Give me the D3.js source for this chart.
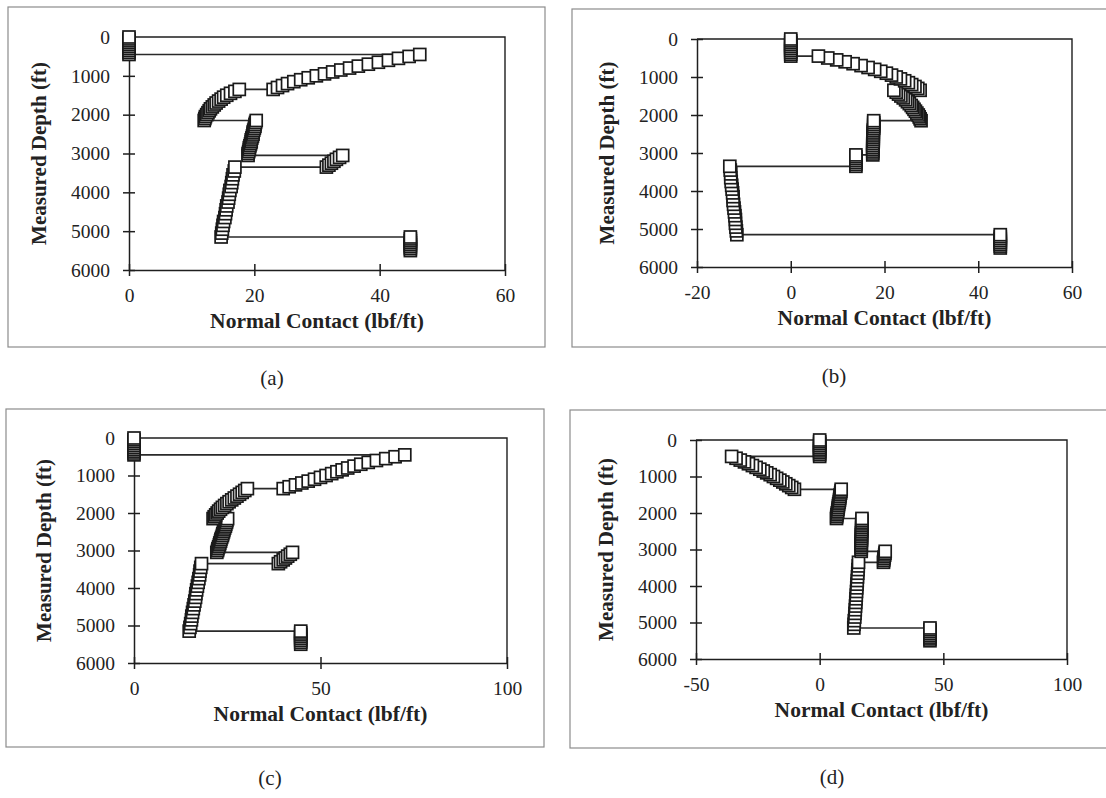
<!DOCTYPE html>
<html>
<head>
<meta charset="utf-8">
<script src="https://cdn.jsdelivr.net/npm/d3@7"></script>
<style>
  body { margin: 0; background: #fff; }
  svg { display: block; }
</style>
</head>
<body>
<div id="fig"></div>
<script>
// 1: DATA (depth in ft, normal contact in lbf/ft)
const depthFt = [
  0, 50, 100, 150, 200, 250, 300, 350, 400, 450,
  450, 500, 550, 600, 650, 700, 750, 800, 850, 900, 950, 1000, 1050, 1100, 1150, 1200, 1250, 1300, 1350,
  1350, 1400, 1450, 1500, 1550, 1600, 1650, 1700, 1750, 1800, 1850, 1900, 1950, 2000, 2050, 2100, 2150,
  2150, 2200, 2250, 2300, 2350, 2400, 2450, 2500, 2550, 2600, 2650, 2700, 2750, 2800, 2850, 2900, 2950, 3000, 3050,
  3050, 3100, 3150, 3200, 3250, 3300, 3350,
  3350, 3450, 3550, 3650, 3750, 3850, 3950, 4050, 4150, 4250, 4350, 4450, 4550, 4650, 4750, 4850, 4950, 5050, 5150,
  5150, 5200, 5250, 5300, 5350, 5400, 5450, 5500
];

const contactA = [
  0, 0, 0, 0, 0, 0, 0, 0, 0, 0,
  46.4, 44.7, 43.0, 41.4, 39.8, 38.2, 36.6, 35.2, 33.8, 32.5, 31.2, 29.9, 28.6, 27.4, 26.3, 25.3, 24.5, 23.7, 23.0,
  17.6, 16.9, 16.2, 15.6, 15.1, 14.7, 14.3, 13.9, 13.6, 13.3, 13.0, 12.8, 12.6, 12.4, 12.2, 12.1, 12.0,
  20.3, 20.2, 20.1, 20.1, 20.0, 19.9, 19.8, 19.8, 19.7, 19.6, 19.5, 19.5, 19.4, 19.3, 19.2, 19.2, 19.1, 19.0, 19.0,
  34.1, 33.6, 33.1, 32.7, 32.3, 31.9, 31.5,
  16.9, 16.8, 16.6, 16.5, 16.4, 16.3, 16.1, 16.0, 15.9, 15.8, 15.6, 15.5, 15.4, 15.3, 15.1, 15.0, 14.9, 14.8, 14.7,
  44.9, 44.9, 44.9, 44.9, 44.9, 44.9, 44.9, 44.9
];

const contactB = [
  0, 0, 0, 0, 0, 0, 0, 0, 0, 0,
  5.9, 7.9, 9.8, 11.6, 13.3, 15.0, 16.5, 17.9, 19.2, 20.4, 21.5, 22.5, 23.4, 24.3, 25.1, 25.8, 26.5, 27.1, 27.6,
  22.0, 22.5, 23.0, 23.5, 24.0, 24.5, 24.9, 25.3, 25.7, 26.0, 26.3, 26.6, 26.9, 27.2, 27.4, 27.6, 27.8,
  17.7, 17.7, 17.7, 17.7, 17.7, 17.6, 17.6, 17.6, 17.6, 17.6, 17.6, 17.6, 17.5, 17.5, 17.5, 17.5, 17.5, 17.5, 17.5,
  13.9, 13.9, 13.9, 13.9, 13.9, 13.9, 13.9,
  -13.0, -12.9, -12.8, -12.8, -12.7, -12.6, -12.5, -12.4, -12.3, -12.3, -12.2, -12.1, -12.0, -11.9, -11.8, -11.8, -11.7, -11.6, -11.5,
  44.7, 44.7, 44.7, 44.7, 44.7, 44.7, 44.7, 44.7
];

const contactC = [
  0, 0, 0, 0, 0, 0, 0, 0, 0, 0,
  72.6, 70.0, 67.5, 65.0, 62.8, 60.8, 59.0, 57.3, 55.8, 54.4, 53.0, 51.5, 50.0, 48.4, 46.7, 45.0, 43.3, 41.6, 40.0,
  30.4, 29.7, 29.0, 28.3, 27.6, 26.9, 26.2, 25.5, 24.9, 24.3, 23.7, 23.2, 22.7, 22.3, 21.9, 21.5, 21.2,
  25.1, 24.9, 24.8, 24.6, 24.5, 24.3, 24.1, 24.0, 23.8, 23.7, 23.5, 23.3, 23.2, 23.0, 22.9, 22.7, 22.5, 22.4, 22.2,
  42.5, 41.9, 41.2, 40.6, 40.0, 39.3, 38.7,
  18.1, 17.9, 17.7, 17.6, 17.4, 17.2, 17.0, 16.8, 16.6, 16.5, 16.3, 16.1, 15.9, 15.7, 15.5, 15.4, 15.2, 15.0, 14.8,
  44.7, 44.7, 44.7, 44.7, 44.7, 44.7, 44.7, 44.7
];

const contactD = [
  0, 0, 0, 0, 0, 0, 0, 0, 0, 0,
  -35.6, -33.8, -32.1, -30.4, -28.8, -27.2, -25.7, -24.2, -22.8, -21.4, -20.0, -18.7, -17.4, -16.1, -14.9, -13.7, -12.5, -11.3, -10.2,
  8.7, 8.6, 8.5, 8.3, 8.2, 8.1, 8.0, 7.9, 7.7, 7.6, 7.5, 7.4, 7.3, 7.1, 7.0, 6.9, 6.8,
  17.1, 17.1, 17.1, 17.0, 17.0, 17.0, 17.0, 17.0, 16.9, 16.9, 16.9, 16.9, 16.9, 16.8, 16.8, 16.8, 16.8, 16.8, 16.8,
  26.5, 26.4, 26.3, 26.1, 26.0, 25.9, 25.8,
  15.7, 15.6, 15.5, 15.4, 15.3, 15.2, 15.1, 15.0, 14.9, 14.8, 14.7, 14.6, 14.5, 14.4, 14.3, 14.2, 14.0, 13.9, 13.8,
  44.6, 44.6, 44.6, 44.6, 44.6, 44.6, 44.6, 44.6
];

const depthTicks = [0, 1000, 2000, 3000, 4000, 5000, 6000];
const xTicksA = [0, 20, 40, 60];
const xTicksB = [-20, 0, 20, 40, 60];
const xTicksC = [0, 50, 100];
const xTicksD = [-50, 0, 50, 100];
const captions = ["(a)", "(b)", "(c)", "(d)"];

// 2: PANEL LAYOUT
const W = 1106, H = 798;
const panels = [
  { contact: contactA, ticks: xTicksA, plot: { l: 129, r: 505, t: 37, b: 270 },
    box: { l: 8, t: 7, r: 545, b: 347 }, cap: { x: 272, y: 378 } },
  { contact: contactB, ticks: xTicksB, plot: { l: 697, r: 1072, t: 39, b: 267 },
    box: { l: 572, t: 9, r: 1115, b: 347 }, cap: { x: 834, y: 376 } },
  { contact: contactC, ticks: xTicksC, plot: { l: 134, r: 507, t: 438, b: 663 },
    box: { l: 6, t: 409, r: 544, b: 747 }, cap: { x: 270, y: 778 } },
  { contact: contactD, ticks: xTicksD, plot: { l: 696, r: 1067, t: 440, b: 659 },
    box: { l: 570, t: 410, r: 1115, b: 748 }, cap: { x: 832, y: 777 } }
];

const svg = d3.select("#fig").append("svg")
    .attr("width", W)
    .attr("height", H);

const serif = "'Liberation Serif', 'Times New Roman', serif";
const ink = "#1e1e1e";
const markerSize = 12;
const plain = d => String(d);   // hyphen minus, no thousands comma

panels.forEach((p, i) => {
    const g = svg.append("g");

    // outer frame around each figure
    g.append("rect")
        .attr("x", p.box.l).attr("y", p.box.t)
        .attr("width", p.box.r - p.box.l).attr("height", p.box.b - p.box.t)
        .attr("fill", "none")
        .attr("stroke", "#8c8c8c")
        .attr("stroke-width", 1.2);

    // 3: SCALES
    const x = d3.scaleLinear()
        .domain([p.ticks[0], p.ticks[p.ticks.length - 1]])
        .range([p.plot.l, p.plot.r]);
    const y = d3.scaleLinear()
        .domain([0, 6000])
        .range([p.plot.t, p.plot.b]);

    // plot area border (top and right)
    g.append("path")
        .attr("d", `M${p.plot.l},${p.plot.t}H${p.plot.r}V${p.plot.b}`)
        .attr("fill", "none")
        .attr("stroke", ink)
        .attr("stroke-width", 1.4);

    // 4: AXES with cross tick marks
    const yAxis = g.append("g")
        .attr("transform", `translate(${p.plot.l},0)`)
        .call(d3.axisLeft(y).tickValues(depthTicks).tickFormat(plain)
            .tickSize(6).tickSizeOuter(0).tickPadding(13));
    yAxis.selectAll(".tick line").attr("x1", 6);

    const xAxis = g.append("g")
        .attr("transform", `translate(0,${p.plot.b})`)
        .call(d3.axisBottom(x).tickValues(p.ticks).tickFormat(plain)
            .tickSize(6).tickSizeOuter(0).tickPadding(12));
    xAxis.selectAll(".tick line").attr("y1", -6);

    [yAxis, xAxis].forEach(ax => {
        ax.select(".domain").attr("stroke", ink).attr("stroke-width", 1.5);
        ax.selectAll(".tick line").attr("stroke", ink).attr("stroke-width", 1.5);
        ax.selectAll("text")
            .style("font-family", serif)
            .style("font-size", "19.5px")
            .attr("fill", "#222");
    });

    // 5: SERIES LINE + SQUARE MARKERS
    const pts = depthFt.map((d, k) => ({ depth: d, contact: p.contact[k] }));
    const line = d3.line()
        .x(d => x(d.contact))
        .y(d => y(d.depth));

    g.append("path")
        .datum(pts)
        .attr("d", line)
        .attr("fill", "none")
        .attr("stroke", "#2a2a2a")
        .attr("stroke-width", 1.7);

    // drawn from the bit up to the surface, so shallower markers sit on top
    g.selectAll(".marker")
        .data(pts.slice().reverse())
        .enter()
        .append("rect")
        .attr("class", "marker")
        .attr("x", d => x(d.contact) - markerSize / 2)
        .attr("y", d => y(d.depth) - markerSize / 2)
        .attr("width", markerSize)
        .attr("height", markerSize)
        .attr("fill", "#fff")
        .attr("stroke", "#1a1a1a")
        .attr("stroke-width", 1.7);

    // 6: LABELS
    g.append("text")
        .attr("transform", `translate(${p.plot.l - 90},${(p.plot.t + p.plot.b) / 2}) rotate(-90)`)
        .attr("text-anchor", "middle")
        .attr("dy", "0.35em")
        .style("font-family", serif)
        .style("font-weight", "bold")
        .style("font-size", "21px")
        .attr("fill", "#222")
        .text("Measured Depth (ft)");

    g.append("text")
        .attr("x", (p.plot.l + p.plot.r) / 2)
        .attr("y", p.plot.b + 50)
        .attr("text-anchor", "middle")
        .attr("dy", "0.35em")
        .style("font-family", serif)
        .style("font-weight", "bold")
        .style("font-size", "21.5px")
        .attr("fill", "#222")
        .text("Normal Contact (lbf/ft)");

    g.append("text")
        .attr("x", p.cap.x)
        .attr("y", p.cap.y)
        .attr("text-anchor", "middle")
        .attr("dy", "0.35em")
        .style("font-family", serif)
        .style("font-size", "21px")
        .attr("fill", "#222")
        .text(captions[i]);
});
</script>
</body>
</html>
